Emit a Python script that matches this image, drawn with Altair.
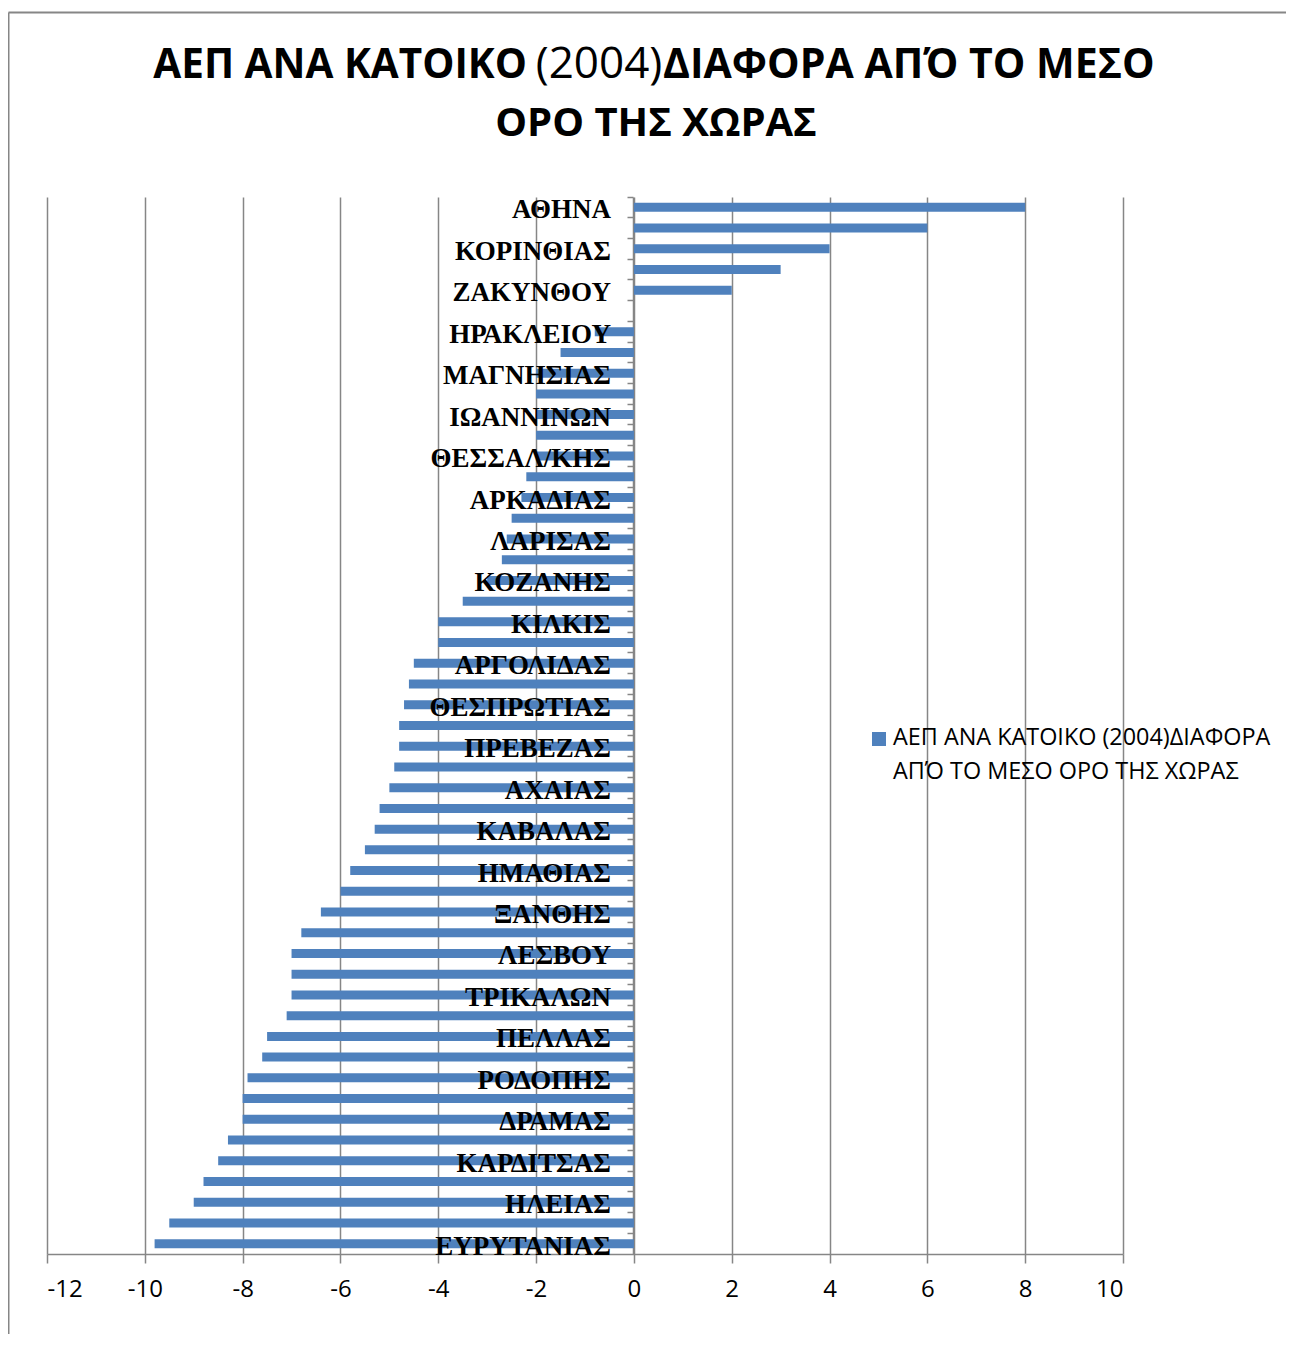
import altair as alt
import pandas as pd

# ---- data ----
labels = ["ΑΘΗΝΑ", "", "ΚΟΡΙΝΘΙΑΣ", "", "ΖΑΚΥΝΘΟΥ", "", "ΗΡΑΚΛΕΙΟΥ", "",
          "ΜΑΓΝΗΣΙΑΣ", "", "ΙΩΑΝΝΙΝΩΝ", "", "ΘΕΣΣΑΛ/ΚΗΣ", "", "ΑΡΚΑΔΙΑΣ", "",
          "ΛΑΡΙΣΑΣ", "", "ΚΟΖΑΝΗΣ", "", "ΚΙΛΚΙΣ", "", "ΑΡΓΟΛΙΔΑΣ", "",
          "ΘΕΣΠΡΩΤΙΑΣ", "", "ΠΡΕΒΕΖΑΣ", "", "ΑΧΑΙΑΣ", "", "ΚΑΒΑΛΑΣ", "",
          "ΗΜΑΘΙΑΣ", "", "ΞΑΝΘΗΣ", "", "ΛΕΣΒΟΥ", "", "ΤΡΙΚΑΛΩΝ", "",
          "ΠΕΛΛΑΣ", "", "ΡΟΔΟΠΗΣ", "", "ΔΡΑΜΑΣ", "", "ΚΑΡΔΙΤΣΑΣ", "",
          "ΗΛΕΙΑΣ", "", "ΕΥΡΥΤΑΝΙΑΣ"]
values = [8, 6, 4, 3, 2, 0, -0.8, -1.5, -2.0, -2.0, -2.0, -2.0, -2.0, -2.2,
          -2.3, -2.5, -2.6, -2.7, -3.0, -3.5, -4.0, -4.0, -4.5, -4.6, -4.7,
          -4.8, -4.8, -4.9, -5.0, -5.2, -5.3, -5.5, -5.8, -6.0, -6.4, -6.8,
          -7.0, -7.0, -7.0, -7.1, -7.5, -7.6, -7.9, -8.0, -8.0, -8.3, -8.5,
          -8.8, -9.0, -9.5, -9.8]
x_ticks = [-12, -10, -8, -6, -4, -2, 0, 2, 4, 6, 8, 10]
title_part1 = "ΑΕΠ ΑΝΑ ΚΑΤΟΙΚΟ"
title_part2 = "(2004)"
title_part3 = "ΔΙΑΦΟΡΑ ΑΠΌ ΤΟ ΜΕΣΟ"
title_line2 = "ΟΡΟ ΤΗΣ ΧΩΡΑΣ"
legend_line1 = "ΑΕΠ ΑΝΑ ΚΑΤΟΙΚΟ (2004)ΔΙΑΦΟΡΑ"
legend_line2 = "ΑΠΌ ΤΟ ΜΕΣΟ ΟΡΟ ΤΗΣ ΧΩΡΑΣ"

BLUE = "#4F81BD"
GRAY = "#868686"
W, H = 1076, 1057

df = pd.DataFrame({"idx": list(range(len(values))), "label": labels, "value": values})
base = alt.Chart(df)

y_enc = alt.Y(
    "idx:O",
    scale=alt.Scale(paddingInner=0, paddingOuter=0),
    axis=alt.Axis(offset=-586, labels=False, title=None, ticks=True, tickSize=6,
                  tickColor=GRAY, tickWidth=1.5, domainColor=GRAY, domainWidth=1.5,
                  bandPosition=0, grid=False),
)
x_enc = alt.X(
    "value:Q",
    scale=alt.Scale(domain=[-12, 10], nice=False, zero=False),
    axis=alt.Axis(values=x_ticks, title=None, grid=True, gridColor=GRAY, gridWidth=1.5,
                  tickSize=9, tickColor=GRAY, tickWidth=1.5, domainColor=GRAY,
                  domainWidth=1.5, labelFont="Open Sans", labelFontSize=24,
                  labelColor="black", labelPadding=14,
                  labelExpr="'' + datum.value"),
)

bars = base.mark_bar(size=9, color=BLUE).encode(x=x_enc, y=y_enc)

cat_text = base.mark_text(
    align="right", baseline="middle", dx=-23, dy=3,
    font="Liberation Serif", fontWeight="bold", fontSize=27, color="black",
).encode(x=alt.datum(0), y=alt.Y("idx:O"), text="label:N")


def txt(s, xpx, ypx, align, weight, size):
    return alt.Chart(pd.DataFrame({"t": [s]})).mark_text(
        align=align, baseline="alphabetic", font="Open Sans", fontWeight=weight,
        fontSize=size, color="black",
    ).encode(x=alt.value(xpx), y=alt.value(ypx), text="t:N")


# title pieces (page px minus plot origin 47,197)
t1 = txt(title_part1, 527 - 47, -119, "right", "bold", 40.5)
t2 = txt(title_part2, 599 - 47, -119, "center", "normal", 44)
t3 = txt(title_part3, 663 - 47, -119, "left", "bold", 41)
t4 = txt(title_line2, 656 - 47, -61, "center", "bold", 40)

leg_sq = alt.Chart(pd.DataFrame({"t": [0]})).mark_square(
    size=196, color=BLUE, opacity=1
).encode(x=alt.value(879 - 47), y=alt.value(739 - 197))
l1 = txt(legend_line1, 893 - 47, 745 - 197, "left", "normal", 23.4)
l2 = txt(legend_line2, 893 - 47, 779 - 197, "left", "normal", 23.4)

frame_left = alt.Chart(pd.DataFrame({"t": [0]})).mark_rule(
    color=GRAY, strokeWidth=2
).encode(x=alt.value(8.5 - 47), y=alt.value(12.5 - 197), y2=alt.value(1346 - 197))
frame_top = alt.Chart(pd.DataFrame({"t": [0]})).mark_rule(
    color=GRAY, strokeWidth=2
).encode(x=alt.value(8.5 - 47), x2=alt.value(1300 - 47), y=alt.value(12.5 - 197))

chart = alt.layer(
    bars, cat_text, t1, t2, t3, t4, leg_sq, l1, l2, frame_left, frame_top
).properties(
    width=W, height=H,
    autosize=alt.AutoSizeParams(type="none"),
    padding={"left": 39, "top": 189, "right": 163, "bottom": 80},
).configure_view(stroke=None)

chart.save("out.html", embed_options={"renderer": "svg", "actions": False})
